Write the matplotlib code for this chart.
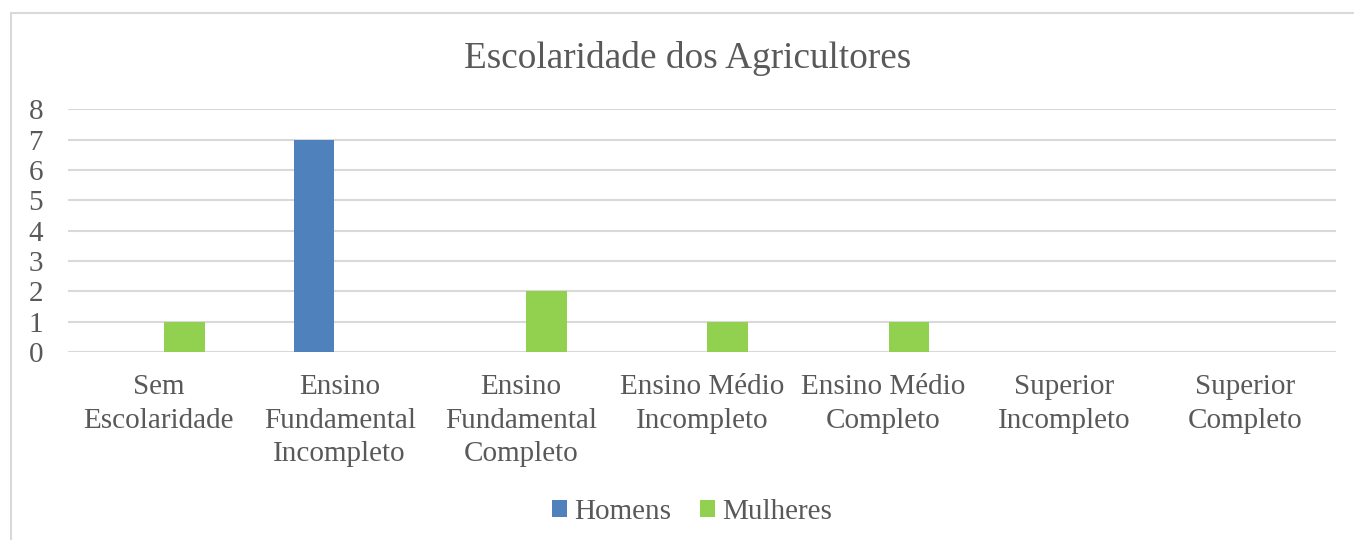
import matplotlib
matplotlib.use("Agg")
import matplotlib.pyplot as plt
import numpy as np
from matplotlib.patches import Rectangle

categories = ["Sem\nEscolaridade", "Ensino\nFundamental\nIncompleto",
              "Ensino\nFundamental\nCompleto", "Ensino Médio\nIncompleto",
              "Ensino Médio\nCompleto", "Superior\nIncompleto", "Superior\nCompleto"]
homens = [0, 7, 0, 0, 0, 0, 0]
mulheres = [1, 0, 2, 1, 1, 0, 0]
series_names = ["Homens", "Mulheres"]
yticks = [0, 1, 2, 3, 4, 5, 6, 7, 8]

TXT = "#595959"
BLUE = "#4F81BD"
GREEN = "#92D050"
GRID = "#D9D9D9"
FONT = "Liberation Serif"

W, H = 1354, 540
fig = plt.figure(figsize=(W / 100, H / 100), dpi=100)
fig.patch.set_facecolor("white")

# outer border
fig.patches.append(Rectangle((11 / W, -0.1), 1.2, (540 - 13) / H + 0.1,
                             transform=fig.transFigure, fill=False,
                             edgecolor=GRID, linewidth=1.5))

ax = fig.add_axes([68 / W, (540 - 352) / H, (1336 - 68) / W, (352 - 109.5) / H])
x = np.arange(len(categories))
bw = 0.224
off = 0.142
ax.bar(x - off, homens, bw, color=BLUE, label=series_names[0], zorder=3)
ax.bar(x + off, mulheres, bw, color=GREEN, label=series_names[1], zorder=3)

ax.set_xlim(-0.5, len(categories) - 0.5)
ax.set_ylim(0, 8)
ax.set_yticks(yticks)
ax.set_yticklabels([str(v) for v in yticks], fontfamily=FONT, fontsize=21, color=TXT)
ax.set_xticks(x)
ax.set_xticklabels(categories, fontfamily=FONT, fontsize=21, color=TXT, linespacing=1.38)
ax.tick_params(axis="y", length=0, pad=18)
ax.tick_params(axis="x", length=0, pad=16)
for s in ax.spines.values():
    s.set_visible(False)
ax.grid(axis="y", color=GRID, linewidth=1.5, zorder=0)
ax.set_axisbelow(True)

fig.text(688 / W, 1 - 58 / H, "Escolaridade dos Agricultores", ha="center", va="center",
         fontfamily=FONT, fontsize=26.8, color=TXT)

leg = fig.legend(loc="center", bbox_to_anchor=(692 / W, 1 - 512 / H), ncol=2, frameon=False,
                 prop={"family": FONT, "size": 21}, handlelength=0.5, handleheight=0.5,
                 handletextpad=0.25, columnspacing=1.0, labelcolor=TXT)

fig.savefig("out.png", dpi=100, facecolor="white")
